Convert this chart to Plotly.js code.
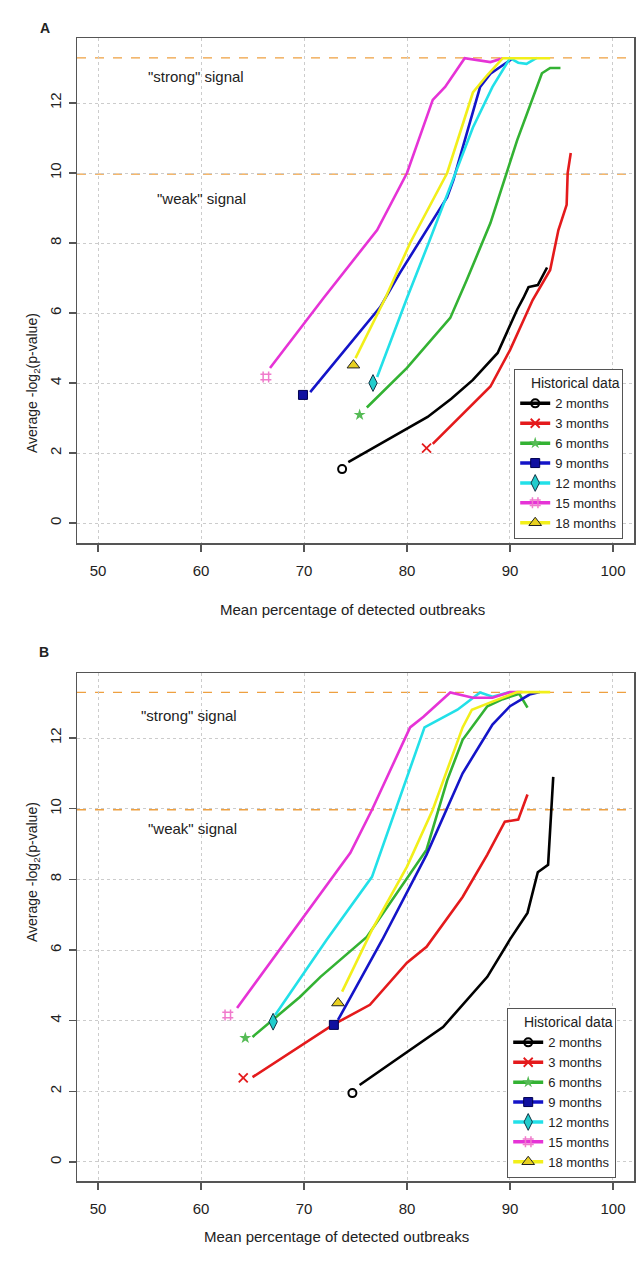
<!DOCTYPE html>
<html>
<head>
<meta charset="utf-8">
<script src="https://cdn.plot.ly/plotly-3.0.1.min.js"></script>
<style>
  html, body { margin: 0; padding: 0; background: #fff; }
  #chart { width: 638px; height: 1263px; }
</style>
</head>
<body>
<div id="chart"></div>
<script>
// ---------- Data (first point = start marker, remaining points = curve) ----------
const seriesNames = ['2 months', '3 months', '6 months', '9 months', '12 months', '15 months', '18 months'];
const legendTitle = 'Historical data';
const strongLevel = 13.29;   // -log2(0.0001)
const weakLevel = 9.97;      // -log2(0.001)
const xTickVals = [50, 60, 70, 80, 90, 100];
const yTickVals = [0, 2, 4, 6, 8, 10, 12];

// Panel A
const a2x  = [73.7, 74.3, 82.0, 84.3, 86.4, 88.8, 89.8, 90.7, 91.3, 91.8, 92.7, 93.6];
const a2y  = [1.54, 1.74, 3.03, 3.55, 4.09, 4.86, 5.50, 6.10, 6.43, 6.74, 6.80, 7.30];
const a3x  = [81.9, 82.5, 88.1, 90.0, 92.2, 93.9, 94.7, 95.5, 95.6, 95.9];
const a3y  = [2.14, 2.26, 3.90, 4.94, 6.37, 7.23, 8.37, 9.09, 10.0, 10.57];
const a6x  = [75.4, 76.1, 80.0, 84.2, 85.8, 88.1, 89.7, 90.7, 93.1, 93.9, 94.9];
const a6y  = [3.09, 3.30, 4.43, 5.86, 6.94, 8.57, 10.0, 10.94, 12.85, 13.0, 13.0];
const a9x  = [69.9, 70.6, 77.4, 79.3, 83.9, 84.5, 87.1, 88.1, 90.3];
const a9y  = [3.66, 3.74, 6.17, 7.14, 9.31, 9.80, 12.46, 12.84, 13.28];
const a12x = [76.7, 77.1, 80.0, 82.1, 84.7, 86.4, 88.3, 90.0, 90.8, 91.6, 92.6];
const a12y = [4.00, 4.17, 6.43, 8.00, 10.0, 11.3, 12.46, 13.28, 13.15, 13.12, 13.29];
const a15x = [66.3, 66.7, 71.9, 77.1, 80.0, 82.5, 83.7, 85.6, 87.3, 88.1, 89.3];
const a15y = [4.17, 4.43, 6.43, 8.37, 10.0, 12.09, 12.46, 13.28, 13.2, 13.17, 13.28];
const a18x = [74.8, 75.0, 77.9, 80.3, 83.9, 86.4, 87.8, 89.3, 93.9];
const a18y = [4.51, 4.71, 6.43, 8.00, 10.0, 12.3, 12.8, 13.28, 13.28];

// Panel B
const b2x  = [74.7, 75.4, 83.5, 87.8, 90.0, 91.7, 92.7, 93.7, 94.2];
const b2y  = [1.95, 2.18, 3.82, 5.24, 6.30, 7.05, 8.20, 8.41, 10.9];
const b3x  = [64.1, 65.0, 69.6, 72.8, 76.4, 80.0, 81.9, 85.4, 87.8, 89.5, 90.8, 91.7];
const b3y  = [2.38, 2.40, 3.26, 3.88, 4.45, 5.64, 6.09, 7.50, 8.70, 9.63, 9.69, 10.4];
const b6x  = [64.3, 65.0, 69.6, 71.6, 76.1, 81.9, 83.9, 85.4, 87.8, 89.3, 90.9, 91.7];
const b6y  = [3.51, 3.54, 4.67, 5.24, 6.37, 8.84, 10.8, 11.95, 12.9, 13.1, 13.25, 12.86];
const b9x  = [72.9, 73.3, 77.6, 81.9, 85.4, 88.3, 90.0, 91.9, 92.9];
const b9y  = [3.88, 4.02, 6.29, 8.70, 11.0, 12.38, 12.9, 13.23, 13.3];
const b12x = [67.0, 67.2, 72.2, 76.6, 81.7, 84.9, 87.1, 88.3, 90.0];
const b12y = [3.97, 4.16, 6.29, 8.07, 12.3, 12.8, 13.29, 13.17, 13.3];
const b15x = [62.6, 63.5, 74.5, 76.6, 80.3, 81.6, 84.2, 86.4, 88.3, 90.0, 91.2];
const b15y = [4.16, 4.36, 8.75, 9.97, 12.3, 12.6, 13.29, 13.14, 13.14, 13.3, 13.3];
const b18x = [73.3, 73.7, 76.6, 80.0, 82.5, 85.4, 86.3, 88.3, 90.7, 93.9];
const b18y = [4.50, 4.82, 6.57, 8.36, 9.97, 12.3, 12.8, 13.03, 13.3, 13.3];

// ---------- Styles ----------
const lineColors = ['#000000', '#e41a1c', '#33b233', '#1414c8', '#22e0e8', '#e633d6', '#f2ef1a'];
const markerStyles = [
  {symbol: 'circle-open', size: 8, color: '#000', line: {color: '#000', width: 2}},
  {symbol: 'x-thin-open', size: 9, color: '#e41a1c', line: {color: '#e41a1c', width: 1.8}},
  {symbol: 'star', size: 9, color: '#55bb55', line: {color: '#55bb55', width: 0}},
  {symbol: 'square', size: 9, color: '#1010a0', line: {color: '#000050', width: 1}},
  {symbol: 'diamond-tall', size: 12, color: '#22cccc', line: {color: '#113344', width: 1}},
  {symbol: 'hash-open', size: 11, color: '#f07acc', line: {color: '#f07acc', width: 1.5}},
  {symbol: 'triangle-up', size: 11, color: '#e8d020', line: {color: '#222', width: 1}}
];

const panels = [
  {xa: 'x', ya: 'y', legend: 'legend',
   xs: [a2x, a3x, a6x, a9x, a12x, a15x, a18x], ys: [a2y, a3y, a6y, a9y, a12y, a15y, a18y]},
  {xa: 'x2', ya: 'y2', legend: 'legend2',
   xs: [b2x, b3x, b6x, b9x, b12x, b15x, b18x], ys: [b2y, b3y, b6y, b9y, b12y, b15y, b18y]}
];

const traces = [];
panels.forEach((p, pi) => {
  seriesNames.forEach((name, i) => {
    const gx = p.xs[i], gy = p.ys[i];
    // curve
    traces.push({
      type: 'scatter', mode: 'lines', x: gx.slice(1), y: gy.slice(1),
      xaxis: p.xa, yaxis: p.ya, showlegend: false,
      legendgroup: 'g' + pi + i,
      line: {color: lineColors[i], width: 2.6}, hoverinfo: 'skip'
    });
    // start marker
    traces.push({
      type: 'scatter', mode: 'markers', x: gx.slice(0, 1), y: gy.slice(0, 1),
      xaxis: p.xa, yaxis: p.ya, showlegend: false,
      legendgroup: 'g' + pi + i,
      marker: markerStyles[i], hoverinfo: 'skip'
    });
    // legend entry
    traces.push({
      type: 'scatter', mode: 'lines+markers', x: [null], y: [null],
      xaxis: p.xa, yaxis: p.ya, name: name, legend: p.legend,
      legendgroup: 'g' + pi + i,
      line: {color: lineColors[i], width: 3.5}, marker: markerStyles[i]
    });
  });
});

const fontFam = 'Liberation Sans, Arial, Helvetica, sans-serif';
const axisCommon = {
  showline: true, linecolor: '#555', linewidth: 1.5, mirror: true,
  ticks: 'outside', ticklen: 7, tickwidth: 1.2, tickcolor: '#555',
  showgrid: true, gridcolor: '#cccccc', griddash: 'dot', gridwidth: 1,
  zeroline: false, tickfont: {family: fontFam, size: 15, color: '#222'},
  fixedrange: true
};
const xDomain = [77 / 638, 634 / 638];
const xRange = [47.96, 102.04];

function xAxis(anchor) {
  return Object.assign({}, axisCommon, {
    domain: xDomain, range: xRange, anchor: anchor,
    tickmode: 'array', tickvals: xTickVals, ticktext: xTickVals.map(String),
    ticklabelstandoff: 6
  });
}
function yAxis(anchor, domain, range) {
  return Object.assign({}, axisCommon, {
    domain: domain, range: range, anchor: anchor, tickangle: -90,
    tickmode: 'array', tickvals: yTickVals, ticktext: yTickVals.map(String),
    ticklabelstandoff: 2
  });
}

function hLine(xref, yref, yv) {
  return {type: 'line', xref: xref + ' domain', yref: yref, x0: 0, x1: 1, y0: yv, y1: yv,
          line: {color: '#eea040', width: 1.3, dash: 'dash'}, layer: 'below'};
}

const textFont = {family: fontFam, size: 15, color: '#222'};
function ann(text, xref, yref, x, y, extra) {
  return Object.assign({text: text, xref: xref, yref: yref, x: x, y: y, showarrow: false,
                        font: textFont}, extra || {});
}

const legendCommon = {
  bgcolor: '#fff', bordercolor: '#555', borderwidth: 1.2,
  font: {family: fontFam, size: 13, color: '#222'},
  title: {text: legendTitle, side: 'top right', font: {family: fontFam, size: 14, color: '#222'}},
  itemwidth: 30, tracegroupgap: 0, itemclick: false, itemdoubleclick: false,
  xanchor: 'right', yanchor: 'bottom', traceorder: 'normal'
};

const layout = {
  width: 638, height: 1263,
  margin: {l: 0, r: 0, t: 0, b: 0},
  paper_bgcolor: '#fff', plot_bgcolor: '#fff',
  font: {family: fontFam, color: '#222'},
  xaxis: xAxis('y'),
  yaxis: yAxis('x', [1 - 543 / 1263, 1 - 38 / 1263], [-0.571, 13.857]),
  xaxis2: xAxis('y2'),
  yaxis2: yAxis('x2', [1 - 1181 / 1263, 1 - 673 / 1263], [-0.538, 13.84]),
  legend: Object.assign({}, legendCommon, {x: 623 / 638, y: 1 - 539 / 1263}),
  legend2: Object.assign({}, legendCommon, {x: 616 / 638, y: 1 - 1178 / 1263}),
  shapes: [
    hLine('x', 'y', strongLevel), hLine('x', 'y', weakLevel),
    hLine('x2', 'y2', strongLevel), hLine('x2', 'y2', weakLevel)
  ],
  annotations: [
    ann('<b>A</b>', 'paper', 'paper', 38 / 638, 1 - 18 / 1263, {font: {family: fontFam, size: 14, color: '#222'}}),
    ann('<b>B</b>', 'paper', 'paper', 37 / 638, 1 - 652 / 1263, {font: {family: fontFam, size: 14, color: '#222'}}),
    ann('"strong" signal', 'x', 'y', 59.5, 12.77),
    ann('"weak" signal', 'x', 'y', 60.0, 9.26),
    ann('"strong" signal', 'x2', 'y2', 58.8, 12.65),
    ann('"weak" signal', 'x2', 'y2', 59.2, 9.43),
    ann('Mean percentage of detected outbreaks', 'paper', 'paper', 352 / 638, 1 - 609 / 1263),
    ann('Mean percentage of detected outbreaks', 'paper', 'paper', 336 / 638, 1 - 1247 / 1263),
    ann('Average -log<sub>2</sub>(p-value)', 'paper', 'paper', 22 / 638, 1 - 311 / 1263,
        {textangle: -90, font: {family: fontFam, size: 14, color: '#222'}}),
    ann('Average -log<sub>2</sub>(p-value)', 'paper', 'paper', 22 / 638, 1 - 944 / 1263,
        {textangle: -90, font: {family: fontFam, size: 14, color: '#222'}})
  ]
};

Plotly.newPlot('chart', traces, layout, {staticPlot: true, displayModeBar: false});
</script>
</body>
</html>
